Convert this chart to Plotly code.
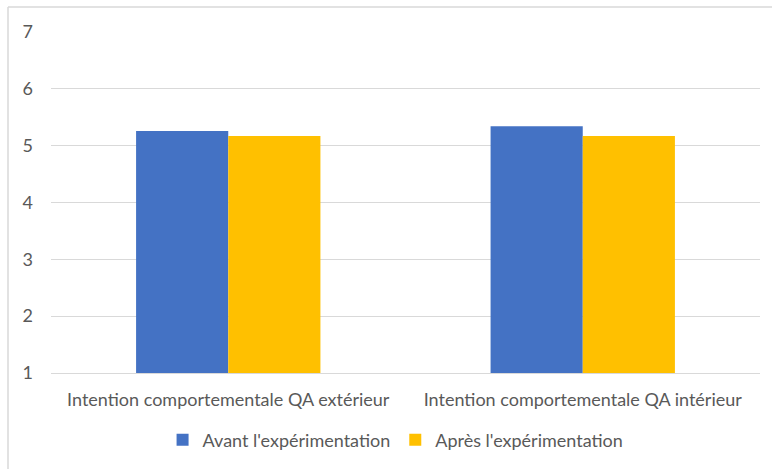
import plotly.graph_objects as go

categories = ["Intention comportementale QA extérieur", "Intention comportementale QA intérieur"]
avant = [5.26, 5.34]
apres = [5.17, 5.17]
series_names = ["Avant l'expérimentation", "Après l'expérimentation"]
y_ticks = [1, 2, 3, 4, 5, 6, 7]

W, H = 772, 469
ml, mr, mt, mb = 51, 12, 32, 95
pw, ph = W - ml - mr, H - mt - mb

fig = go.Figure()
fig.add_trace(go.Bar(x=categories, y=avant, name=series_names[0], marker_color="#4472C4",
                     marker_line_width=0))
fig.add_trace(go.Bar(x=categories, y=apres, name=series_names[1], marker_color="#FFC000",
                     marker_line_width=0))

font = dict(family="Lato, Carlito, Calibri, sans-serif", size=18, color="#595959")

# chart frame: left and top edges
fx0 = (8 - ml) / pw
fy1 = (H - 7 - mb) / ph
fig.add_shape(type="line", xref="paper", yref="paper", x0=fx0, x1=fx0, y0=(0 - mb) / ph - 0.01, y1=fy1,
              line=dict(color="#D9D9D9", width=1.5))
fig.add_shape(type="line", xref="paper", yref="paper", x0=fx0, x1=(W - ml) / pw + 0.01, y0=fy1, y1=fy1,
              line=dict(color="#D9D9D9", width=1.5))

fig.update_layout(
    width=W, height=H,
    margin=dict(l=ml, r=mr, t=mt, b=mb),
    paper_bgcolor="white", plot_bgcolor="white",
    barmode="group", bargap=0.48, bargroupgap=0,
    font=font,
    showlegend=True,
    legend=dict(orientation="h", x=0.486, xanchor="center", y=-0.193, yanchor="middle",
                font=dict(size=18, color="#595959"), itemwidth=30, tracegroupgap=0),
    xaxis=dict(showgrid=False, showline=True, linecolor="#D9D9D9", linewidth=1,
               ticks="", ticklabelstandoff=10, tickfont=font),
    yaxis=dict(range=[1, 7], tickvals=y_ticks, showgrid=True, gridcolor="#D9D9D9", gridwidth=1,
               zeroline=False, showline=False, ticks="", ticklabelstandoff=17, tickfont=font),
)

fig.write_html("out.html")
